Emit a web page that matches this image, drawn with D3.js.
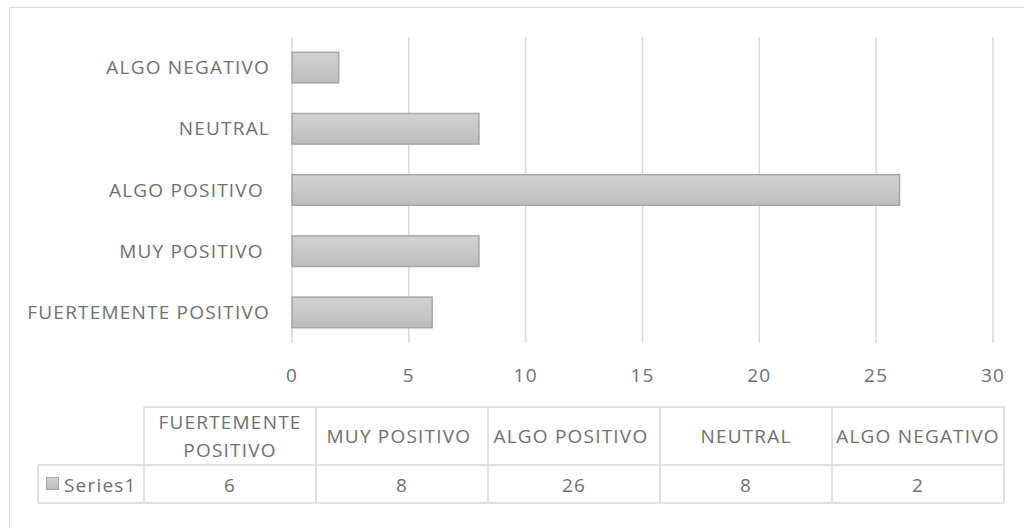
<!DOCTYPE html>
<html>
<head>
<meta charset="utf-8">
<script src="https://cdn.jsdelivr.net/npm/d3@7"></script>
<style>
  body { margin: 0; background: #fff; }
  text { font-family: "Open Sans", Lato, sans-serif; fill: #707070; white-space: pre; letter-spacing: 1.2px; }
</style>
</head>
<body>
<div id="chart"></div>
<script>
// data
var categories = ["FUERTEMENTE POSITIVO", "MUY POSITIVO ", "ALGO POSITIVO ", "NEUTRAL", "ALGO NEGATIVO"];
var tableHeads = [["FUERTEMENTE", "POSITIVO"], ["MUY POSITIVO "], ["ALGO POSITIVO "], ["NEUTRAL"], ["ALGO NEGATIVO"]];
var values = [6, 8, 26, 8, 2];
var ticks = [0, 5, 10, 15, 20, 25, 30];
var seriesName = "Series1";

var width = 1024, height = 528;
var plotLeft = 292, plotRight = 993, plotTop = 37, plotBottom = 343;
var fontSize = 19;

var svg = d3.select("#chart").append("svg")
    .attr("width", width)
    .attr("height", height);

var defs = svg.append("defs");
var grad = defs.append("linearGradient")
    .attr("id", "barGrad")
    .attr("x1", 0).attr("y1", 0).attr("x2", 0).attr("y2", 1);
grad.append("stop").attr("offset", "0%").attr("stop-color", "#d2d2d2");
grad.append("stop").attr("offset", "100%").attr("stop-color", "#bdbdbd");

// chart frame
svg.append("rect")
    .attr("x", 9.5).attr("y", 7.5)
    .attr("width", 1030).attr("height", 540)
    .attr("fill", "none")
    .attr("stroke", "#d9d9d9");

var x = d3.scaleLinear().domain([0, 30]).range([plotLeft, plotRight]);
var y = d3.scaleBand()
    .domain(categories.slice().reverse())
    .range([plotTop, plotBottom])
    .paddingInner(0.5)
    .paddingOuter(0.25);

// gridlines
svg.append("g").selectAll("line")
    .data(ticks)
    .enter()
    .append("line")
    .attr("x1", function (d) { return x(d); })
    .attr("x2", function (d) { return x(d); })
    .attr("y1", plotTop)
    .attr("y2", plotBottom)
    .attr("stroke", "#d9d9d9")
    .attr("stroke-width", 1.5);

// tick labels
svg.append("g").selectAll("text")
    .data(ticks)
    .enter()
    .append("text")
    .attr("x", function (d) { return x(d); })
    .attr("y", 375)
    .attr("dy", "0.35em")
    .attr("text-anchor", "middle")
    .attr("font-size", fontSize)
    .text(function (d) { return d; });

// bars
svg.append("g").selectAll("rect")
    .data(categories)
    .enter()
    .append("rect")
    .attr("x", x(0))
    .attr("y", function (d) { return y(d); })
    .attr("width", function (d, i) { return x(values[i]) - x(0); })
    .attr("height", y.bandwidth())
    .attr("fill", "url(#barGrad)")
    .attr("stroke", "#a6a6a6")
    .attr("stroke-width", 1.5);

// category labels
svg.append("g").selectAll("text")
    .data(categories)
    .enter()
    .append("text")
    .attr("x", 270)
    .attr("y", function (d) { return y(d) + y.bandwidth() / 2; })
    .attr("dy", "0.35em")
    .attr("text-anchor", "end")
    .attr("font-size", fontSize)
    .text(function (d) { return d; });

// data table
var colX = d3.scaleBand()
    .domain(d3.range(categories.length))
    .range([144, 1004]);
var rowTop = 407, rowMid = 465, rowBot = 503, legendLeft = 38;

var tbl = svg.append("g")
    .attr("stroke", "#d9d9d9")
    .attr("stroke-width", 1.5);

tbl.append("line").attr("x1", 144).attr("x2", 1004).attr("y1", rowTop).attr("y2", rowTop);
tbl.append("line").attr("x1", legendLeft).attr("x2", 1004).attr("y1", rowMid).attr("y2", rowMid);
tbl.append("line").attr("x1", legendLeft).attr("x2", 1004).attr("y1", rowBot).attr("y2", rowBot);
tbl.append("line").attr("x1", legendLeft).attr("x2", legendLeft).attr("y1", rowMid).attr("y2", rowBot);

tbl.selectAll(".col")
    .data(d3.range(categories.length + 1))
    .enter()
    .append("line")
    .attr("x1", function (d) { return d < categories.length ? colX(d) : 1004; })
    .attr("x2", function (d) { return d < categories.length ? colX(d) : 1004; })
    .attr("y1", rowTop)
    .attr("y2", rowBot);

// header cells
var head = svg.append("g").selectAll("text")
    .data(tableHeads)
    .enter()
    .append("text")
    .attr("text-anchor", "middle")
    .attr("font-size", fontSize);

head.selectAll("tspan")
    .data(function (d, i) {
        return d.map(function (t, j) { return { t: t, i: i, j: j, n: d.length }; });
    })
    .enter()
    .append("tspan")
    .attr("x", function (d) { return colX(d.i) + colX.bandwidth() / 2; })
    .attr("y", function (d) {
        var mid = (rowTop + rowMid) / 2;
        return mid + (d.j - (d.n - 1) / 2) * 28;
    })
    .attr("dy", "0.35em")
    .text(function (d) { return d.t; });

// value cells
svg.append("g").selectAll("text")
    .data(values)
    .enter()
    .append("text")
    .attr("x", function (d, i) { return colX(i) + colX.bandwidth() / 2; })
    .attr("y", (rowMid + rowBot) / 2 + 1)
    .attr("dy", "0.35em")
    .attr("text-anchor", "middle")
    .attr("font-size", fontSize)
    .text(function (d) { return d; });

// legend key
svg.append("rect")
    .attr("x", 46.5).attr("y", 477.5)
    .attr("width", 12).attr("height", 12)
    .attr("fill", "url(#barGrad)")
    .attr("stroke", "#a6a6a6");

svg.append("text")
    .attr("x", 64)
    .attr("y", (rowMid + rowBot) / 2 + 1)
    .attr("dy", "0.35em")
    .attr("font-size", fontSize)
    .text(seriesName);
</script>
</body>
</html>
